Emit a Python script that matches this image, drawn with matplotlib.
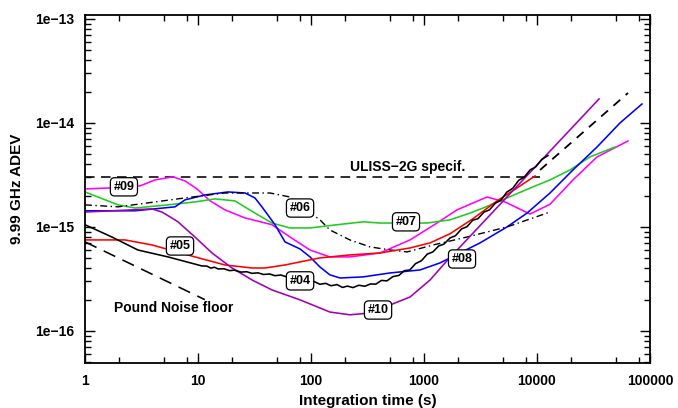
import matplotlib
matplotlib.use("Agg")
import matplotlib.pyplot as plt
from matplotlib.ticker import LogLocator, NullFormatter, FixedLocator

plt.rcParams['font.family'] = ['Liberation Sans', 'DejaVu Sans']
plt.rcParams['font.weight'] = 'bold'

# ---- data (tau in s, ADEV) ----
# #09 (magenta)
t09 = [1, 1.66, 3.07, 4.16, 6.0, 7.67, 9.8, 12.8, 17.3, 26.1, 45.2, 65.2, 98, 147,
       221, 408, 752, 1303, 1960, 3610, 5210, 8670, 13030, 20800, 34000, 63900]
y09 = [2.32e-15, 2.37e-15, 2.48e-15, 2.83e-15, 3.03e-15, 2.77e-15, 2.32e-15, 1.78e-15,
       1.46e-15, 1.22e-15, 1.05e-15, 8.0e-16, 6.0e-16, 5.15e-16, 5.15e-16, 5.62e-16,
       7.5e-16, 1.09e-15, 1.46e-15, 1.94e-15, 1.74e-15, 1.33e-15, 1.65e-15, 2.83e-15,
       4.71e-15, 6.71e-15]

# #07 (green)
t07 = [1, 1.96, 2.77, 5.43, 9.4, 14.1, 21.2, 31.9, 45.2, 65.2, 98, 170, 289, 408,
       1064, 1699, 2555, 3330, 5430, 9220, 13030, 19600, 29400, 49000]
y07 = [2.17e-15, 1.63e-15, 1.52e-15, 1.63e-15, 1.74e-15, 1.86e-15, 1.78e-15, 1.36e-15,
       1.09e-15, 9.78e-16, 9.78e-16, 1.05e-15, 1.12e-15, 1.09e-15, 1.09e-15, 1.17e-15,
       1.36e-15, 1.52e-15, 1.90e-15, 2.43e-15, 2.83e-15, 3.53e-15, 4.71e-15, 5.87e-15]

# #08 (blue)
t08 = [1, 2.77, 6.26, 7.67, 11.5, 18.4, 26.1, 31.9, 36.8, 48, 58.9, 80, 98, 120, 147,
       181, 289, 500, 922, 1386, 3130, 5430, 8170, 13030, 20800, 34000, 54300, 84900]
y08 = [1.43e-15, 1.43e-15, 1.56e-15, 1.82e-15, 2.03e-15, 2.17e-15, 2.12e-15, 1.90e-15,
       1.56e-15, 1.05e-15, 7.18e-16, 6.14e-16, 5.15e-16, 4.12e-16, 3.46e-16, 3.23e-16,
       3.31e-16, 3.61e-16, 3.86e-16, 4.51e-16, 7.02e-16, 1.0e-15, 1.36e-15, 2.12e-15,
       3.53e-15, 5.87e-15, 1.0e-14, 1.52e-14]

# #06 (black dash-dot)
t06 = [1, 1.96, 7.67, 17.3, 30.1, 43.4, 65.2, 80, 120, 147, 221, 333, 500, 708,
       1200, 2400, 5430, 13030]
y06 = [1.63e-15, 1.56e-15, 1.90e-15, 2.12e-15, 2.12e-15, 2.12e-15, 1.94e-15, 1.60e-15,
       1.17e-15, 9.35e-16, 7.5e-16, 6.43e-16, 6.01e-16, 5.75e-16, 6.7e-16, 8.0e-16,
       1.0e-15, 1.39e-15]

# #05 (red)
t05 = [1, 2.26, 3.92, 9.4, 17.3, 30.1, 39.2, 58.9, 120, 221, 408, 752, 1131, 1699,
       2716, 4430, 6700, 9600]
y05 = [7.5e-16, 7.5e-16, 6.71e-16, 5.15e-16, 4.31e-16, 4.03e-16, 4.03e-16, 4.31e-16,
       5.04e-16, 5.38e-16, 5.62e-16, 6.28e-16, 7.02e-16, 8.6e-16, 1.20e-15, 1.78e-15,
       2.38e-15, 3.09e-15]

# #04 (black, measured)
t04 = [1, 1.73, 2.94, 5.43, 10.8, 12, 13, 14, 15, 17, 19, 21, 24, 27, 30, 34, 38,
       43, 48, 54, 60, 68, 76, 85, 95, 107, 120, 135, 150, 170, 190, 210, 235, 265,
       300, 335, 375, 420, 470, 530, 600, 670, 750, 840, 950, 1070, 1200, 1350, 1500,
       1700, 1900, 2150, 2400, 2700, 3000, 3400, 3800, 4300, 4800, 5400, 6100, 6900,
       7700, 8700, 9700, 11000, 12500]
y04 = [10.5, 8.0, 6.0, 5.15, 4.22, 4.20, 4.02, 4.10, 3.95, 3.96, 3.80, 3.84, 3.68,
       3.71, 3.58, 3.62, 3.49, 3.53, 3.40, 3.45, 3.33, 3.31, 3.13, 3.14, 2.97, 2.98,
       2.81, 2.87, 2.72, 2.79, 2.62, 2.70, 2.61, 2.75, 2.69, 2.83, 2.82, 3.06, 3.03,
       3.33, 3.42, 3.80, 3.86, 4.43, 4.74, 5.48, 5.76, 6.57, 6.83, 7.84, 8.24, 9.57,
       10.05, 11.6, 12.0, 13.9, 14.6, 17.0, 18.1, 21.6, 23.5, 28.1, 30.1, 35.4, 37.6,
       44.5, 48.5]
y04 = [v * 1e-16 for v in y04]

# #04 drift extrapolation (black dashed)
t04_ext = [10640, 63900]
y04_ext = [3.53e-15, 1.94e-14]

# #10 (purple)
t10 = [1, 3.92, 4.8, 5.65, 6.65, 9.4, 13.3, 20, 30.1, 45.2, 80, 147, 221, 333, 752,
       1131, 1535, 35400]
y10 = [1.39e-15, 1.49e-15, 1.39e-15, 1.25e-15, 1.12e-15, 8.0e-16, 5.62e-16, 4.03e-16,
       3.09e-16, 2.48e-16, 1.99e-16, 1.52e-16, 1.43e-16, 1.49e-16, 2.12e-16, 3.09e-16,
       4.51e-16, 1.70e-14]

# specification and Pound noise floor
t_spec = [1, 10640]
y_spec = [3.05e-15, 3.05e-15]
t_pound = [1, 11.5]
y_pound = [7.18e-16, 2.0e-16]

x_ticks = [1, 10, 100, 1000, 10000, 100000]
x_tick_labels = ["1", "10", "100", "1000", "10000", "100000"]
y_ticks = [1e-16, 1e-15, 1e-14, 1e-13]
y_tick_labels = ["1e\u221216", "1e\u221215", "1e\u221214", "1e\u221213"]

# curve tags: (text, tau, adev)
tags = [("#09", 2.21, 2.43e-15), ("#06", 80, 1.52e-15), ("#05", 6.93, 6.56e-16),
        ("#04", 80, 3.03e-16), ("#07", 693, 1.12e-15), ("#08", 2170, 4.92e-16),
        ("#10", 392, 1.59e-16)]

fig = plt.figure(figsize=(6.78, 4.08), dpi=100)
ax = fig.add_axes([85 / 678, 1 - 363 / 408, 565 / 678, 348 / 408])

lw = 1.15
ax.plot(t_spec, y_spec, color='black', lw=lw, dashes=(6, 4))
ax.plot(t_pound, y_pound, color='black', lw=lw, dashes=(8, 5))
ax.plot(t04_ext, y04_ext, color='black', lw=1.3, dashes=(5, 4))
ax.plot(t09, y09, color='#ff00ff', lw=lw)
ax.plot(t07, y07, color='#1fcc1f', lw=lw)
ax.plot(t08, y08, color='#0000ff', lw=lw)
ax.plot(t06, y06, color='black', lw=1.0, dashes=(5, 2.5, 1, 2.5))
ax.plot(t05, y05, color='#ff0000', lw=lw)
ax.plot(t10, y10, color='#a000b4', lw=lw)
ax.plot(t04, y04, color='black', lw=lw)

ax.set_xscale('log')
ax.set_yscale('log')
ax.set_xlim(1, 1e5)
ax.set_ylim(4.92e-17, 1.09e-13)

ax.xaxis.set_major_locator(FixedLocator(x_ticks))
ax.set_xticklabels(x_tick_labels)
ax.xaxis.set_minor_locator(LogLocator(base=10, subs=[2, 5, 8]))
ax.xaxis.set_minor_formatter(NullFormatter())
ax.yaxis.set_major_locator(FixedLocator(y_ticks))
ax.set_yticklabels(y_tick_labels)
ax.yaxis.set_minor_locator(LogLocator(base=10, subs=range(2, 10)))
ax.yaxis.set_minor_formatter(NullFormatter())

ax.tick_params(which='both', direction='in', top=True, right=True, width=1.0)
ax.tick_params(which='major', length=7, labelsize=10, pad=8)
ax.tick_params(which='minor', length=4)
for s in ax.spines.values():
    s.set_linewidth(1.3)

ax.set_xlabel("Integration time (s)", fontsize=11, fontweight='bold', labelpad=4)
ax.set_ylabel("9.99 GHz ADEV", fontsize=11, fontweight='bold', labelpad=8)

ax.text(221, 3.77e-15, "ULISS\u22122G specif.", fontsize=10, fontweight='bold',
        ha='left', va='center')
ax.text(1.81, 1.66e-16, "Pound Noise floor", fontsize=10, fontweight='bold',
        ha='left', va='center')

for label, tx, ty in tags:
    ax.text(tx, ty, label, fontsize=9, fontweight='bold', ha='center', va='center',
            bbox=dict(boxstyle='round,pad=0.25,rounding_size=0.35', fc='white',
                      ec='black', lw=0.9), zorder=5)

fig.savefig("out.png", dpi=100)
